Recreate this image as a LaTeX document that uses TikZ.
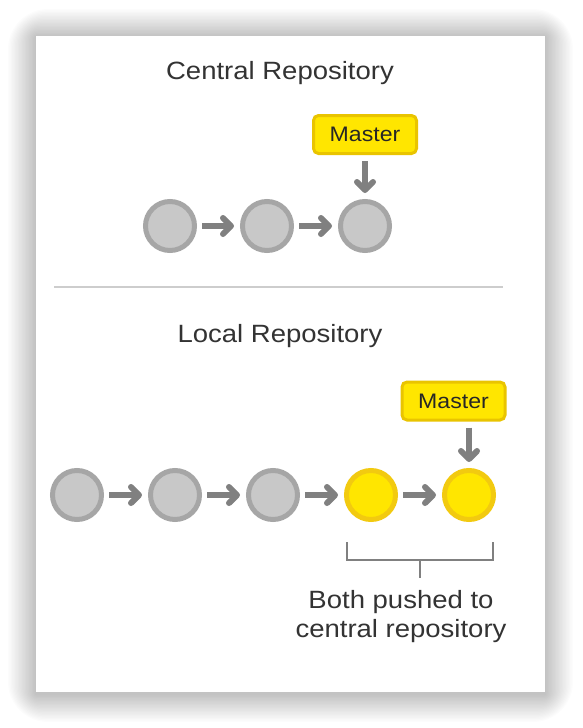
\documentclass[tikz,border=0pt]{standalone}
\usepackage{fontspec}
\setmainfont{Liberation Sans}[FakeStretch=1.1]
\usetikzlibrary{arrows.meta}
\definecolor{commitfill}{HTML}{C8C8C8}
\definecolor{commitedge}{HTML}{A6A6A6}
\definecolor{newfill}{HTML}{FFE600}
\definecolor{newedge}{HTML}{F2CA10}
\definecolor{tagfill}{HTML}{FFE600}
\definecolor{tagedge}{HTML}{E9C400}
\definecolor{tagtext}{HTML}{262626}
\definecolor{arrowgray}{HTML}{808080}
\definecolor{titletext}{HTML}{333333}
\definecolor{rulegray}{HTML}{CDCDCD}

\begin{document}
\begin{tikzpicture}[x=1pt,y=-1pt,
  commit/.style={circle,draw=commitedge,fill=commitfill,line width=5pt,minimum size=49pt,inner sep=0pt},
  newcommit/.style={commit,draw=newedge,fill=newfill},
  branchtag/.style={draw=tagedge,fill=tagfill,line width=3pt,rounded corners=5pt,minimum width=103pt,minimum height=38pt,inner sep=0pt,text=tagtext,font=\fontsize{21}{24}\selectfont},
  link/.style={draw=arrowgray,line width=6pt,-{Straight Barb[length=8pt,width=16pt,round]},shorten <=5pt,shorten >=6pt},
  title/.style={text=titletext,font=\fontsize{25}{29}\selectfont,anchor=base},
  bracket/.style={draw=arrowgray,line width=2pt}]
% page and card with soft shadow
\fill[white] (0,0) rectangle (582,728);
\useasboundingbox (0,0) rectangle (582,728);
\foreach \s in {1,...,20}
  \fill[black,opacity=0.01,rounded corners=2*\s pt] (36-1.4*\s,37-1.4*\s) rectangle (545+1.4*\s,694+1.4*\s);
\fill[white] (36,36) rectangle (545,692);

% central repository
\node[title] (ctitle) at (280,79) {Central Repository};
\node[commit] (c1) at (170,226) {};
\node[commit] (c2) at (267,226) {};
\node[commit] (c3) at (365,226) {};
\node[branchtag] (cmaster) at (365,134.5) {Master};
\draw[link] (c1) -- (c2);
\draw[link] (c2) -- (c3);
\draw[link,shorten <=6pt] (cmaster) -- (c3);

\coordinate (dl) at (54,287);
\coordinate (dr) at (503,287);
\draw[rulegray,line width=2pt] (dl) -- (dr);

% local repository
\node[title] (ltitle) at (280,342) {Local Repository};
\foreach \i/\x in {1/77,2/175,3/273}
  \node[commit] (l\i) at (\x,495) {};
\node[newcommit] (l4) at (371,495) {};
\node[newcommit] (l5) at (469,495) {};
\node[branchtag] (lmaster) at (453.5,401) {Master};
\foreach \a/\b in {1/2,2/3,3/4,4/5}
  \draw[link] (l\a) -- (l\b);
\draw[link,shorten <=6pt] (lmaster.south -| l5) -- (l5);

% bracket under the pushed commits
\coordinate (bl) at (347,542);
\coordinate (br) at (493,542);
\coordinate (bm) at (420,560);
\draw[bracket] (bl) -- ++(0,18) -| (br);
\draw[bracket] (bm) -- ++(0,18) coordinate (bt);
\node[text=titletext,font=\fontsize{25}{29}\selectfont,align=center,anchor=north] (pushed) at (401,587) {Both pushed to\\central repository};
\end{tikzpicture}
\end{document}
